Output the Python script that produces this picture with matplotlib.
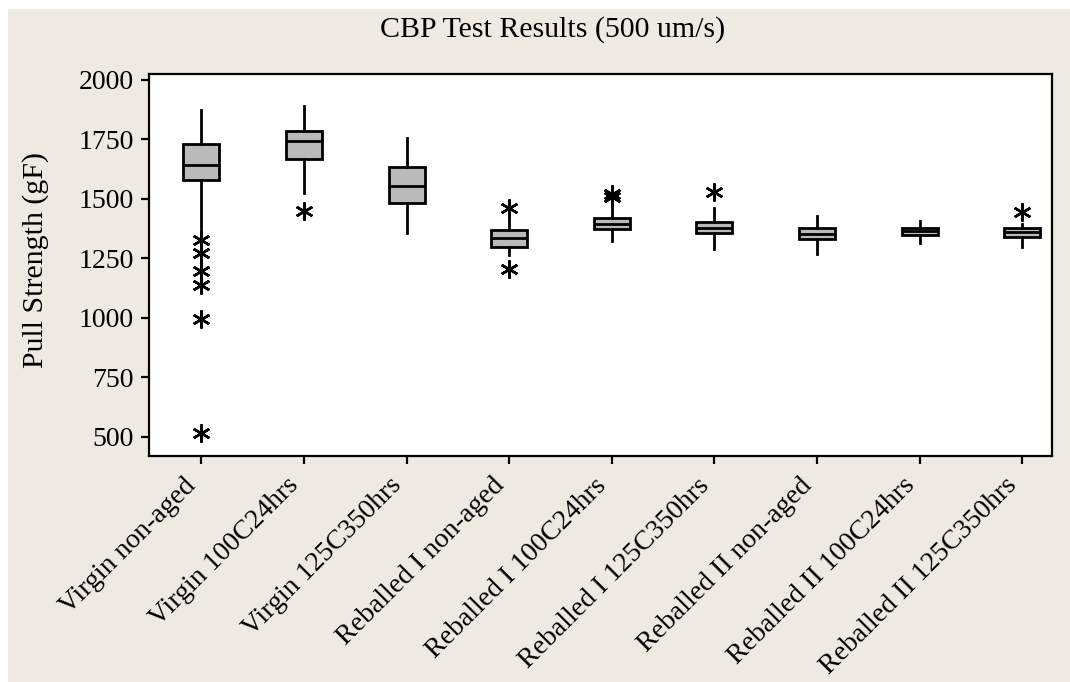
import matplotlib.pyplot as plt
from matplotlib.patches import Rectangle

labels = ['Virgin non-aged', 'Virgin 100C24hrs', 'Virgin 125C350hrs',
          'Reballed I non-aged', 'Reballed I 100C24hrs', 'Reballed I 125C350hrs',
          'Reballed II non-aged', 'Reballed II 100C24hrs', 'Reballed II 125C350hrs']
whis_low = [1367, 1524, 1356, 1265, 1324, 1289, 1269, 1314, 1297]
q1 = [1580, 1668, 1485, 1297, 1373, 1357, 1331, 1348, 1342]
median = [1644, 1745, 1555, 1335, 1394, 1380, 1353, 1366, 1360]
q3 = [1730, 1787, 1636, 1369, 1419, 1404, 1378, 1380, 1377]
whis_high = [1874, 1891, 1758, 1433, 1482, 1461, 1429, 1409, 1395]
outliers = [[1328, 1275, 1199, 1139, 995, 516], [1451], [], [1463, 1205],
            [1520, 1510], [1528], [], [], [1444]]
yticks = [500, 750, 1000, 1250, 1500, 1750, 2000]

plt.rcParams['font.family'] = ['Liberation Serif', 'DejaVu Serif']

fig = plt.figure(figsize=(10.7, 6.82), dpi=100, facecolor='white')
# beige panel behind everything
fig.patches.append(Rectangle((8 / 1070, 0), 1 - 8 / 1070, 1 - 9 / 682,
                             transform=fig.transFigure, facecolor='#eeeae2',
                             edgecolor='none', zorder=-10))

ax = fig.add_axes([149 / 1070, 1 - 456 / 682, (1052 - 149) / 1070, (456 - 74) / 682])
ax.set_facecolor('white')

stats = []
for i in range(len(labels)):
    stats.append({'whislo': whis_low[i], 'q1': q1[i], 'med': median[i],
                  'q3': q3[i], 'whishi': whis_high[i], 'fliers': outliers[i]})

ax.bxp(stats, positions=range(1, len(labels) + 1), widths=0.35,
       patch_artist=True, showcaps=False,
       boxprops=dict(facecolor='#bababa', edgecolor='black', linewidth=2),
       medianprops=dict(color='black', linewidth=2),
       whiskerprops=dict(color='black', linewidth=2),
       flierprops=dict(marker=(6, 2, 0), markersize=13, markeredgecolor='black',
                       markeredgewidth=1.8, linestyle='none'))

ax.set_xlim(0.49, 9.29)
ax.set_ylim(420, 2025)
ax.set_yticks(yticks)
ax.set_yticklabels([str(v) for v in yticks])
ax.set_xticks(range(1, len(labels) + 1))
ax.set_xticklabels(labels, rotation=45, ha='right', va='bottom',
                   rotation_mode='anchor')

ax.tick_params(axis='both', direction='out', length=6, width=1.6,
               labelsize=20, color='black')
ax.tick_params(axis='x', pad=19)
ax.tick_params(axis='y', pad=5)
for s in ax.spines.values():
    s.set_linewidth(1.6)

fig.text(553 / 1070, 1 - 30 / 682, 'CBP Test Results (500 um/s)',
         ha='center', va='center', fontsize=21.5)
fig.text(36 / 1070, 1 - 260 / 682, 'Pull Strength (gF)', rotation=90,
         ha='center', va='center', fontsize=21.5)

fig.savefig('out.png', dpi=100, facecolor=fig.get_facecolor())
